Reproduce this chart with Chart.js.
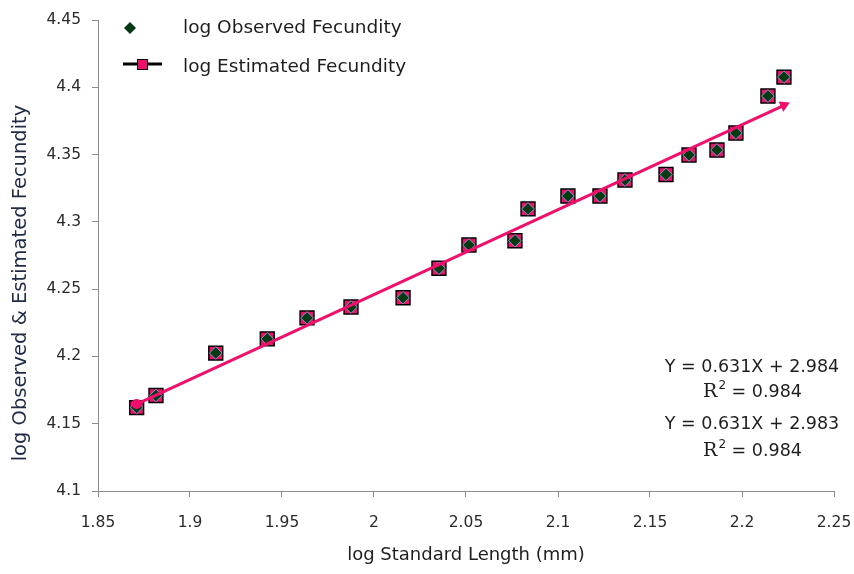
<!DOCTYPE html>
<html><head><meta charset="utf-8">
<script src="https://cdn.jsdelivr.net/npm/chart.js@4.4.0/dist/chart.umd.min.js"></script>
<style>html,body{margin:0;padding:0;background:#fff}#wrap{width:854px;height:574px;position:relative}</style>
</head><body><div id="wrap"><canvas id="c" width="854" height="574" style="width:854px;height:574px"></canvas></div>
<script>
const logStandardLength = [1.871,1.8815,1.914,1.942,1.9636,1.9875,2.0158,2.0353,2.0516,2.0766,2.0837,2.1054,2.1228,2.1364,2.1587,2.1712,2.1864,2.1967,2.2141,2.2228];
const logObservedFecundity = [4.162,4.171,4.2025,4.213,4.2286,4.2367,4.2436,4.2655,4.2828,4.286,4.3096,4.3192,4.3192,4.3311,4.3352,4.3497,4.3534,4.366,4.3935,4.4076];
const logEstimatedFecundity = [4.162,4.171,4.2025,4.213,4.2286,4.2367,4.2436,4.2655,4.2828,4.286,4.3096,4.3192,4.3192,4.3311,4.3352,4.3497,4.3534,4.366,4.3935,4.4076];
const trendSlope = 0.631;
const trendIntercept = 2.984;
const xTickValues = [1.85,1.9,1.95,2,2.05,2.1,2.15,2.2,2.25];
const xTickLabels = ['1.85','1.9','1.95','2','2.05','2.1','2.15','2.2','2.25'];
const yTickValues = [4.1,4.15,4.2,4.25,4.3,4.35,4.4,4.45];
const yTickLabels = ['4.1','4.15','4.2','4.25','4.3','4.35','4.4','4.45'];
const legendLabels = ['log Observed Fecundity','log Estimated Fecundity'];
const xTitle = 'log Standard Length (mm)';
const yTitle = 'log Observed & Estimated Fecundity';
const equationLines = [
  {type:'eq', text:'Y = 0.631X + 2.984'},
  {type:'r2', text:' = 0.984'},
  {type:'eq', text:'Y = 0.631X + 2.983'},
  {type:'r2', text:' = 0.984'}
];

const PINK = '#f0106c';
const DKGREEN = '#063a12';
const DIAMOND_EDGE = '#6f9fc6';
const FONT = '"DejaVu Sans", sans-serif';

const observed = logStandardLength.map((x,i)=>({x:x, y:logObservedFecundity[i]}));
const estimated = logStandardLength.map((x,i)=>({x:x, y:logEstimatedFecundity[i]}));
const xMin = Math.min(...logStandardLength), xMax = Math.max(...logStandardLength);
const trend = [xMin, xMax].map(x=>({x:x, y:trendSlope*x + trendIntercept}));

function arrowRotation(ctx){
  const ch = ctx.chart;
  const xs = ch.scales.x, ys = ch.scales.y;
  if(!xs || !ys) return 0;
  const dx = xs.getPixelForValue(trend[1].x) - xs.getPixelForValue(trend[0].x);
  const dy = ys.getPixelForValue(trend[1].y) - ys.getPixelForValue(trend[0].y);
  const ang = Math.atan2(-dy, dx) * 180 / Math.PI;
  return 90 - ang;
}

const overlay = {
  id:'overlay',
  afterDraw(chart){
    const c = chart.ctx;
    c.save();
    c.textBaseline = 'middle';
    c.textAlign = 'left';
    // legend
    c.beginPath();
    c.moveTo(130,22); c.lineTo(136,28); c.lineTo(130,34); c.lineTo(124,28); c.closePath();
    c.fillStyle = DKGREEN; c.fill();
    c.font = '18.5px ' + FONT;
    c.fillStyle = '#1e1e1e';
    c.fillText(legendLabels[0], 183, 28);
    c.strokeStyle = '#000'; c.lineWidth = 3;
    c.beginPath(); c.moveTo(123,64); c.lineTo(162,64); c.stroke();
    c.fillStyle = PINK; c.strokeStyle = '#000'; c.lineWidth = 1;
    c.fillRect(137,59,11,11); c.strokeRect(137.5,59.5,10,10);
    c.fillStyle = '#1e1e1e';
    c.fillText(legendLabels[1], 183, 67);
    // y-axis title
    c.save();
    c.translate(21, 283);
    c.rotate(-Math.PI/2);
    c.textAlign = 'center';
    c.font = '19.5px ' + FONT;
    c.fillStyle = '#1f2a44';
    c.fillText(yTitle, 0, 0);
    c.restore();
    // equations
    const cx = 752;
    const ys = [367, 392, 424, 451];
    c.fillStyle = '#1e1e1e';
    equationLines.forEach((ln,i)=>{
      if(ln.type==='eq'){
        c.font = '17.5px ' + FONT; c.textAlign='center';
        c.fillText(ln.text, cx, ys[i]);
      } else {
        c.font = '19px "DejaVu Serif", serif';
        const wR = c.measureText('R').width;
        c.font = '12px ' + FONT;
        const w2 = c.measureText('2').width;
        c.font = '17.5px ' + FONT;
        const wt = c.measureText(ln.text).width;
        let x0 = cx - (wR + w2 + wt)/2;
        c.textAlign='left';
        c.font = '19px "DejaVu Serif", serif';
        c.fillText('R', x0, ys[i]);
        c.font = '12px ' + FONT;
        c.fillText('2', x0 + wR + 1, ys[i]-6);
        c.font = '17.5px ' + FONT;
        c.fillText(ln.text, x0 + wR + w2 + 1, ys[i]);
      }
    });
    c.restore();
  }
};

new Chart(document.getElementById('c'), {
  type:'scatter',
  data:{
    datasets:[
      {
        label:'trend', data:trend, showLine:true, order:0,
        borderColor:PINK, borderWidth:3, backgroundColor:PINK,
        pointStyle:['circle','triangle'], pointRadius:[5,6.5], pointBorderWidth:0,
        pointBackgroundColor:PINK, pointRotation:(ctx)=> ctx.dataIndex===1 ? arrowRotation(ctx) : 0
      },
      {
        label:legendLabels[0], data:observed, order:1,
        pointStyle:'rectRot', pointRadius:6.3, pointBackgroundColor:DKGREEN,
        pointBorderColor:DIAMOND_EDGE, pointBorderWidth:1
      },
      {
        label:legendLabels[1], data:estimated, order:2,
        pointStyle:'rect', pointRadius:9.8, pointBackgroundColor:PINK,
        pointBorderColor:'#000', pointBorderWidth:1.5
      }
    ]
  },
  options:{
    responsive:false, animation:false, devicePixelRatio:1,
    layout:{padding:{top:20, right:20, left:0, bottom:0}},
    plugins:{legend:{display:false}, tooltip:{enabled:false}},
    scales:{
      x:{
        type:'linear', min:1.85, max:2.25,
        afterBuildTicks(s){ s.ticks = xTickValues.map(v=>({value:v})); },
        afterFit(s){ s.height = 83; s.paddingLeft = 0; s.paddingRight = 0; },
        ticks:{ callback:(v,i)=>xTickLabels[i], font:{family:FONT, size:15.5}, color:'#2a2a2a', padding:17, maxRotation:0, autoSkip:false },
        grid:{ drawOnChartArea:false, drawTicks:true, tickLength:6, color:'#8c8c8c' },
        border:{ display:true, color:'#8c8c8c', width:1 },
        title:{ display:true, text:xTitle, font:{family:FONT, size:18}, color:'#1e1e1e', padding:{top:0,bottom:8} }
      },
      y:{
        type:'linear', min:4.1, max:4.45,
        afterBuildTicks(s){ s.ticks = yTickValues.map(v=>({value:v})); },
        afterFit(s){ s.width = 98; s.paddingTop = 0; s.paddingBottom = 0; },
        ticks:{ callback:(v,i)=>yTickLabels[i], font:{family:FONT, size:15.5}, color:'#2a2a2a', padding:11, autoSkip:false },
        grid:{ drawOnChartArea:false, drawTicks:true, tickLength:6, color:'#8c8c8c' },
        border:{ display:true, color:'#8c8c8c', width:1 },
        title:{ display:false }
      }
    }
  },
  plugins:[overlay]
});
</script></body></html>
